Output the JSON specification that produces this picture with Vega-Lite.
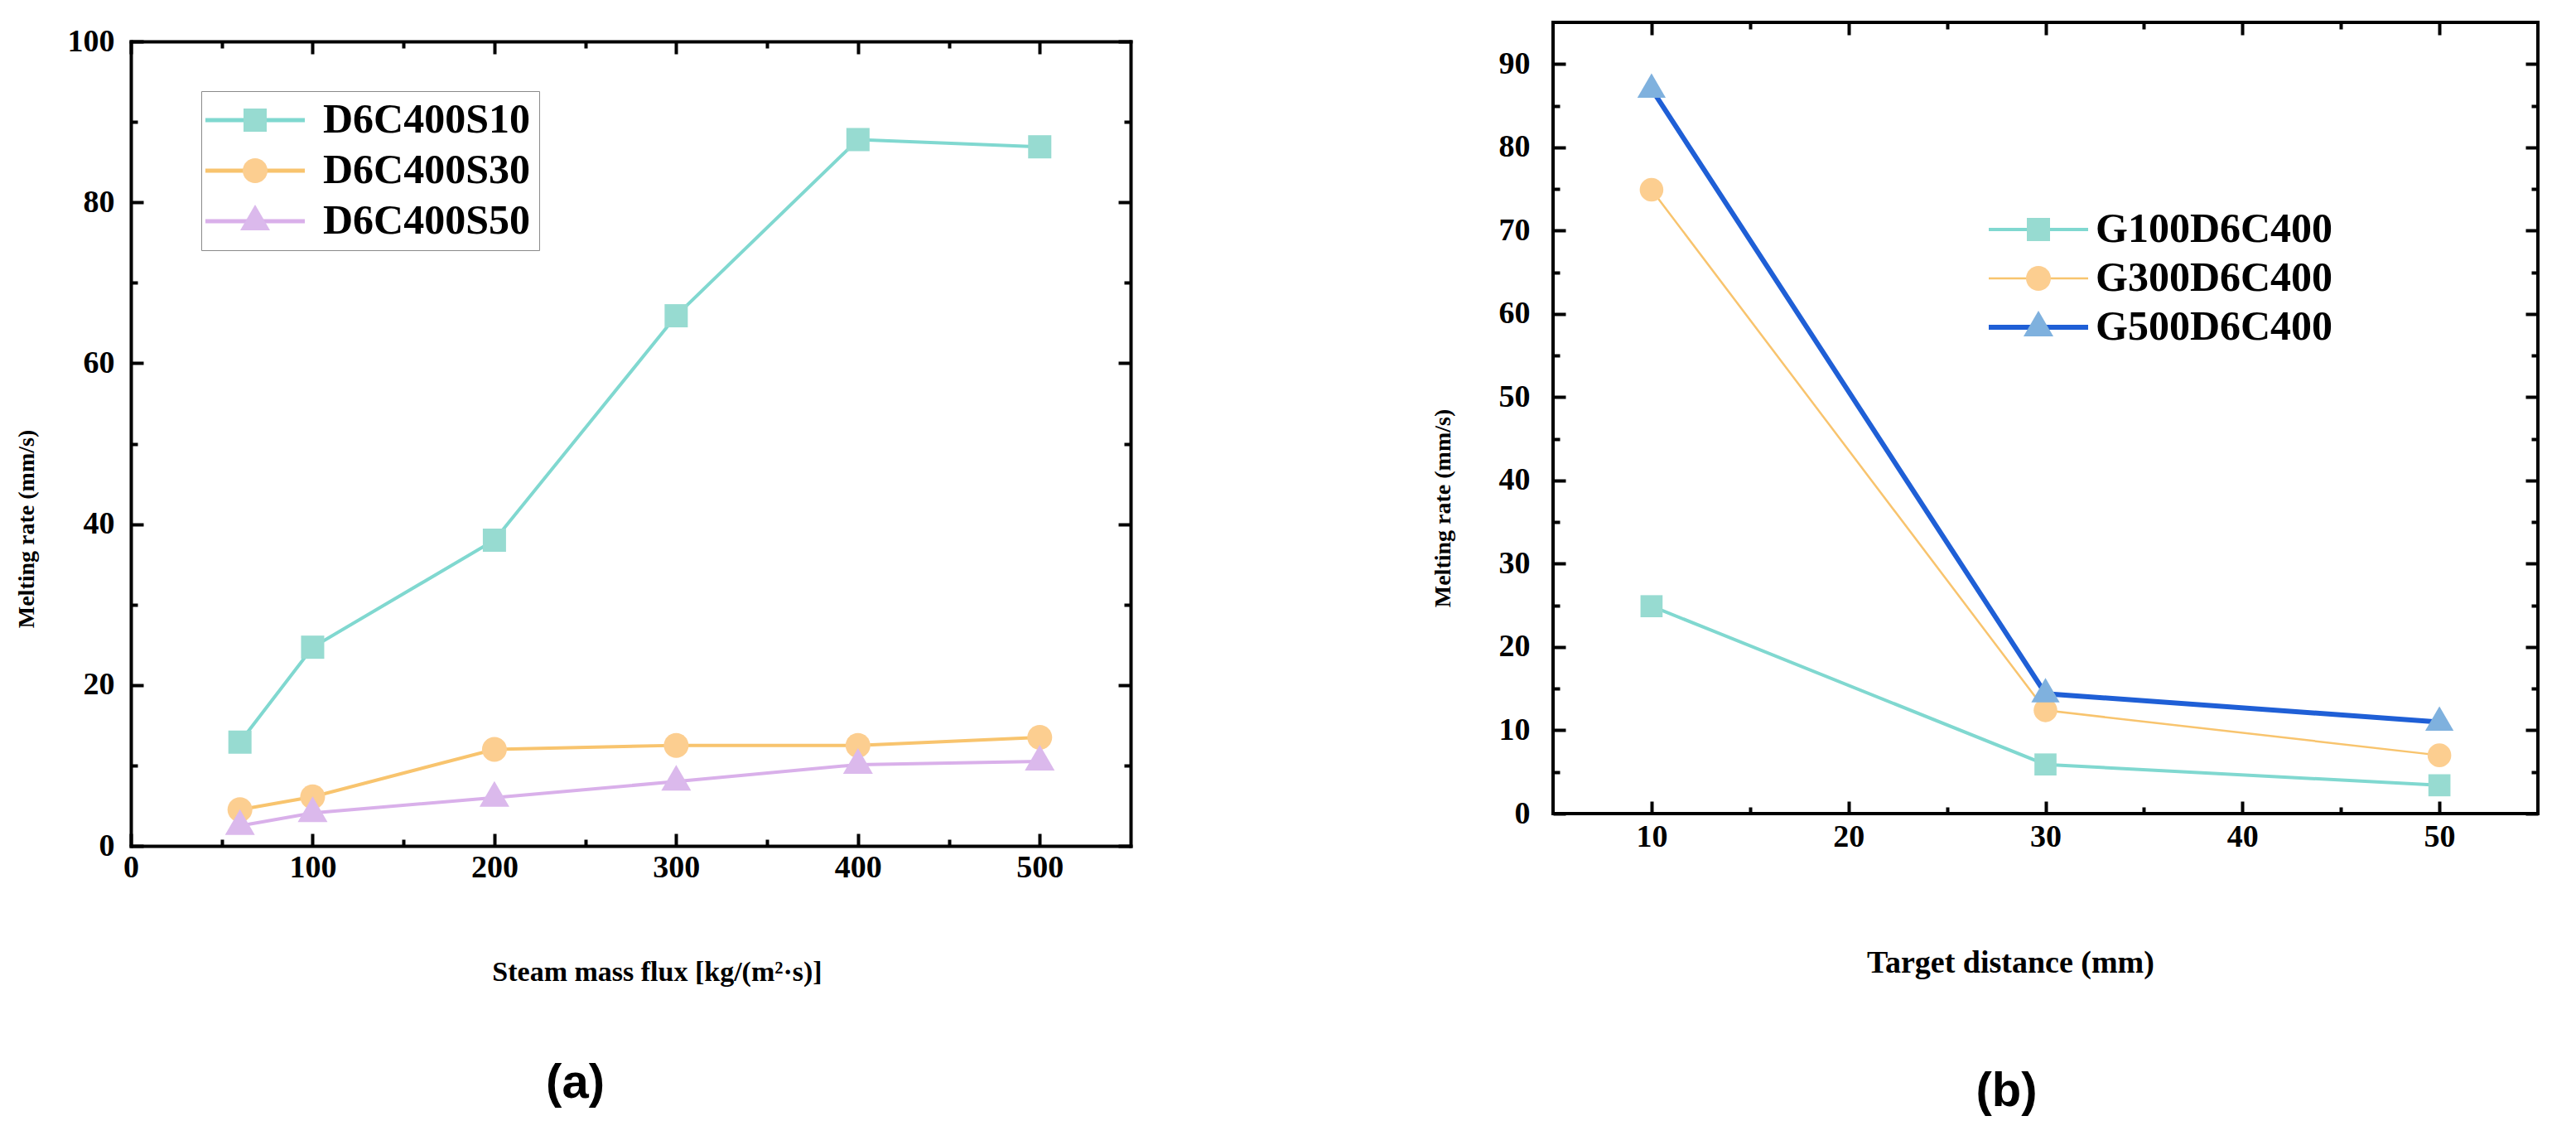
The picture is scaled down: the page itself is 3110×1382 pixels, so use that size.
{
  "$schema": "https://vega.github.io/schema/vega-lite/v6.json",
  "description": "Melting rate vs steam mass flux (a) and vs target distance (b).",
  "padding": {"left": 18, "top": 23, "right": 5, "bottom": 5},
  "background": "white",
  "datasets": {
    "a": [
      {"series": "D6C400S10", "flux": 60, "rate": 12.9},
      {"series": "D6C400S10", "flux": 100, "rate": 24.7},
      {"series": "D6C400S10", "flux": 200, "rate": 38},
      {"series": "D6C400S10", "flux": 300, "rate": 65.9},
      {"series": "D6C400S10", "flux": 400, "rate": 87.8},
      {"series": "D6C400S10", "flux": 500, "rate": 86.9},
      {"series": "D6C400S30", "flux": 60, "rate": 4.5},
      {"series": "D6C400S30", "flux": 100, "rate": 6.1},
      {"series": "D6C400S30", "flux": 200, "rate": 12},
      {"series": "D6C400S30", "flux": 300, "rate": 12.5},
      {"series": "D6C400S30", "flux": 400, "rate": 12.5},
      {"series": "D6C400S30", "flux": 500, "rate": 13.5},
      {"series": "D6C400S50", "flux": 60, "rate": 2.5},
      {"series": "D6C400S50", "flux": 100, "rate": 4.1},
      {"series": "D6C400S50", "flux": 200, "rate": 6},
      {"series": "D6C400S50", "flux": 300, "rate": 8},
      {"series": "D6C400S50", "flux": 400, "rate": 10.1},
      {"series": "D6C400S50", "flux": 500, "rate": 10.5}
    ],
    "b": [
      {"series": "G100D6C400", "distance": 10, "rate": 24.9},
      {"series": "G100D6C400", "distance": 30, "rate": 5.9},
      {"series": "G100D6C400", "distance": 50, "rate": 3.4},
      {"series": "G300D6C400", "distance": 10, "rate": 74.9},
      {"series": "G300D6C400", "distance": 30, "rate": 12.4},
      {"series": "G300D6C400", "distance": 50, "rate": 7},
      {"series": "G500D6C400", "distance": 10, "rate": 87},
      {"series": "G500D6C400", "distance": 30, "rate": 14.4},
      {"series": "G500D6C400", "distance": 50, "rate": 11}
    ]
  },
  "config": {
    "view": {"stroke": "black", "strokeWidth": 4},
    "axis": {
      "grid": false,
      "domain": false,
      "domainColor": "black",
      "domainWidth": 4,
      "domainCap": "square",
      "tickColor": "black",
      "tickWidth": 4,
      "labelFont": "Liberation Serif",
      "labelFontWeight": "bold",
      "labelFontSize": 38,
      "labelColor": "black",
      "labelFlush": false,
      "labelOverlap": false,
      "titleFont": "Liberation Serif",
      "titleFontWeight": "bold",
      "titleColor": "black"
    },
    "legend": {
      "labelFont": "Liberation Serif",
      "labelFontWeight": "bold",
      "labelFontSize": 50,
      "labelColor": "black",
      "labelLimit": 400,
      "symbolSize": 1600,
      "padding": 10,
      "rowPadding": 11
    }
  },
  "concat": [
    {
      "width": 1207,
      "height": 994,
      "view": {"stroke": null},
      "data": {"name": "a"},
      "title": {"text": "(a)", "orient": "bottom", "anchor": "middle", "dx": -67, "offset": 89, "font": "Liberation Sans", "fontSize": 58, "fontWeight": "bold", "color": "black"},
      "layer": [
        {
          "mark": {"type": "line", "strokeWidth": 4},
          "encoding": {
            "x": {
              "field": "flux", "type": "quantitative",
              "scale": {"domain": [0, 550], "nice": false, "zero": false},
              "axis": {
                "orient": "bottom", "values": [0, 100, 200, 300, 400, 500],
                "domain": true, "tickSize": -15, "labelPadding": 22,
                "title": "Steam mass flux [kg/(m²·s)]", "titleFontSize": 34,
                "titleX": 635, "titleY": 152, "titleBaseline": "middle"
              }
            },
            "y": {
              "field": "rate", "type": "quantitative",
              "scale": {"domain": [0, 100], "range": [994, 23], "nice": false},
              "axis": {
                "orient": "left", "values": [0, 20, 40, 60, 80, 100],
                "domain": true, "tickSize": -15, "labelPadding": 35,
                "title": "Melting rate (mm/s)", "titleFontSize": 28,
                "titleX": -126, "titleY": 611, "titleAlign": "center", "titleBaseline": "middle"
              }
            },
            "color": {
              "field": "series", "type": "nominal",
              "scale": {"range": ["#80d8d0", "#f8c46e", "#d9b0ea"]},
              "legend": {
                "title": null, "orient": "none", "legendX": 85, "legendY": 83,
                "symbolType": "M-3,0H3", "symbolStrokeWidth": 5,
                "symbolOffset": 30, "labelOffset": 57,
                "strokeColor": "#8a8a8a", "fillColor": "white"
              }
            }
          }
        },
        {
          "mark": {"type": "point", "filled": true, "size": 1600, "opacity": 1, "strokeWidth": 0},
          "encoding": {
            "x": {
              "field": "flux", "type": "quantitative",
              "axis": {"orient": "top", "values": [0, 100, 200, 300, 400, 500], "offset": -23, "domain": true, "tickSize": -15, "labels": false, "title": null}
            },
            "y": {
              "field": "rate", "type": "quantitative",
              "axis": {"orient": "right", "values": [0, 20, 40, 60, 80, 100], "domain": true, "tickSize": -15, "labels": false, "title": null}
            },
            "fill": {
              "field": "series", "type": "nominal",
              "scale": {"domain": ["D6C400S10", "D6C400S30", "D6C400S50"], "range": ["#97dbd1", "#fcce90", "#dbb9ec"]},
              "legend": {
                "title": null, "orient": "none", "legendX": 85, "legendY": 83,
                "symbolStrokeWidth": 0, "symbolOffset": 30, "labelOffset": 57, "labelOpacity": 0
              }
            },
            "shape": {
              "field": "series", "type": "nominal",
              "scale": {
                "domain": ["D6C400S10", "D6C400S30", "D6C400S50"],
                "range": [
                  "M-0.7,-0.7H0.7V0.7H-0.7Z",
                  "M0.75,0A0.75,0.75,0,1,1,-0.75,0A0.75,0.75,0,1,1,0.75,0Z",
                  "M0,-1L0.9,0.55H-0.9Z"
                ]
              },
              "legend": {
                "title": null, "orient": "none", "legendX": 85, "legendY": 83,
                "symbolStrokeWidth": 0, "symbolOffset": 30, "labelOffset": 57, "labelOpacity": 0
              }
            }
          }
        },
        {
          "mark": {"type": "point", "opacity": 0},
          "encoding": {
            "x": {
              "field": "flux", "type": "quantitative",
              "axis": {"orient": "bottom", "values": [50, 150, 250, 350, 450], "tickSize": -8, "labels": false, "title": null}
            },
            "y": {
              "field": "rate", "type": "quantitative",
              "axis": {"orient": "left", "values": [10, 30, 50, 70, 90], "tickSize": -8, "labels": false, "title": null}
            }
          }
        },
        {
          "mark": {"type": "point", "opacity": 0},
          "encoding": {
            "x": {
              "field": "flux", "type": "quantitative",
              "axis": {"orient": "top", "values": [50, 150, 250, 350, 450], "offset": -23, "tickSize": -8, "labels": false, "title": null}
            },
            "y": {
              "field": "rate", "type": "quantitative",
              "axis": {"orient": "right", "values": [10, 30, 50, 70, 90], "tickSize": -8, "labels": false, "title": null}
            }
          }
        }
      ],
      "resolve": {"axis": {"x": "independent", "y": "independent"}}
    },
    {
      "width": 1189,
      "height": 955,
      "data": {"name": "b"},
      "title": {"text": "(b)", "orient": "bottom", "anchor": "middle", "dx": -47, "offset": 108, "font": "Liberation Sans", "fontSize": 58, "fontWeight": "bold", "color": "black"},
      "layer": [
        {
          "mark": {"type": "line"},
          "encoding": {
            "x": {
              "field": "distance", "type": "quantitative",
              "scale": {"domain": [5, 55], "nice": false, "zero": false},
              "axis": {
                "orient": "bottom", "values": [10, 20, 30, 40, 50],
                "tickSize": -15, "labelPadding": 24,
                "title": "Target distance (mm)", "titleFontSize": 38,
                "titleX": 552, "titleY": 180, "titleBaseline": "middle"
              }
            },
            "y": {
              "field": "rate", "type": "quantitative",
              "scale": {"domain": [0, 95], "nice": false},
              "axis": {
                "orient": "left", "values": [0, 10, 20, 30, 40, 50, 60, 70, 80, 90],
                "tickSize": -15, "labelPadding": 43,
                "title": "Melting rate (mm/s)", "titleFontSize": 28,
                "titleX": -133, "titleY": 586, "titleAlign": "center", "titleBaseline": "middle"
              }
            },
            "color": {
              "field": "series", "type": "nominal",
              "scale": {"range": ["#80d8d0", "#f8c46e", "#1f5fd6"]},
              "legend": {
                "title": null, "orient": "none", "legendX": 521, "legendY": 215,
                "symbolType": "M-3,0H3", "symbolStrokeWidth": 5,
                "symbolOffset": 30, "labelOffset": 44, "rowPadding": 9
              }
            },
            "strokeWidth": {
              "field": "series", "type": "nominal",
              "scale": {"type": "ordinal", "range": [4, 2.5, 6]},
              "legend": null
            }
          }
        },
        {
          "mark": {"type": "point", "filled": true, "size": 1450, "opacity": 1, "strokeWidth": 0},
          "encoding": {
            "x": {
              "field": "distance", "type": "quantitative",
              "axis": {"orient": "top", "values": [10, 20, 30, 40, 50], "tickSize": -15, "labels": false, "title": null}
            },
            "y": {
              "field": "rate", "type": "quantitative",
              "axis": {"orient": "right", "values": [0, 10, 20, 30, 40, 50, 60, 70, 80, 90], "tickSize": -15, "labels": false, "title": null}
            },
            "fill": {
              "field": "series", "type": "nominal",
              "scale": {"domain": ["G100D6C400", "G300D6C400", "G500D6C400"], "range": ["#97dbd1", "#fcce90", "#7fb1de"]},
              "legend": {
                "title": null, "orient": "none", "legendX": 521, "legendY": 215,
                "symbolStrokeWidth": 0, "symbolOffset": 30, "labelOffset": 44, "labelOpacity": 0, "rowPadding": 9
              }
            },
            "shape": {
              "field": "series", "type": "nominal",
              "scale": {
                "domain": ["G100D6C400", "G300D6C400", "G500D6C400"],
                "range": [
                  "M-0.7,-0.7H0.7V0.7H-0.7Z",
                  "M0.75,0A0.75,0.75,0,1,1,-0.75,0A0.75,0.75,0,1,1,0.75,0Z",
                  "M0,-1L0.9,0.55H-0.9Z"
                ]
              },
              "legend": {
                "title": null, "orient": "none", "legendX": 521, "legendY": 215,
                "symbolStrokeWidth": 0, "symbolOffset": 30, "labelOffset": 44, "labelOpacity": 0, "rowPadding": 9
              }
            }
          }
        },
        {
          "mark": {"type": "point", "opacity": 0},
          "encoding": {
            "x": {
              "field": "distance", "type": "quantitative",
              "axis": {"orient": "bottom", "values": [15, 25, 35, 45], "tickSize": -8, "labels": false, "title": null}
            },
            "y": {
              "field": "rate", "type": "quantitative",
              "axis": {"orient": "left", "values": [5, 15, 25, 35, 45, 55, 65, 75, 85], "tickSize": -8, "labels": false, "title": null}
            }
          }
        },
        {
          "mark": {"type": "point", "opacity": 0},
          "encoding": {
            "x": {
              "field": "distance", "type": "quantitative",
              "axis": {"orient": "top", "values": [15, 25, 35, 45], "tickSize": -8, "labels": false, "title": null}
            },
            "y": {
              "field": "rate", "type": "quantitative",
              "axis": {"orient": "right", "values": [5, 15, 25, 35, 45, 55, 65, 75, 85], "tickSize": -8, "labels": false, "title": null}
            }
          }
        }
      ],
      "resolve": {"axis": {"x": "independent", "y": "independent"}}
    }
  ],
  "columns": 2,
  "spacing": 359,
  "resolve": {
    "scale": {"x": "independent", "y": "independent", "color": "independent", "fill": "independent", "shape": "independent", "strokeWidth": "independent"}
  }
}
